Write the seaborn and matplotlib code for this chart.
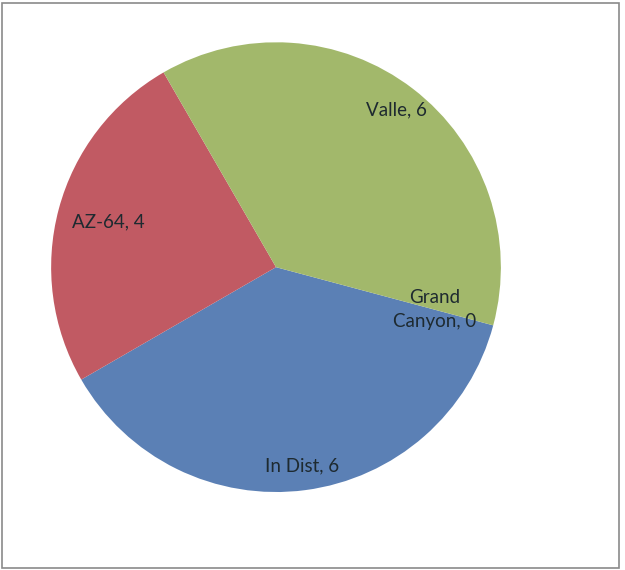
import numpy as np
import matplotlib
matplotlib.use("Agg")
import matplotlib.pyplot as plt
import seaborn as sns

# Slice data (clockwise from the start angle)
categories = ["In Dist", "AZ-64", "Valle", "Grand\nCanyon"]
values = [6, 4, 6, 0]
colors = ["#5b80b5", "#c15a63", "#a2b86b"]

sns.set_style("white")
plt.rcParams["font.family"] = ["Lato", "DejaVu Sans"]

fig = plt.figure(figsize=(6.25, 5.7), dpi=100)
ax = fig.add_axes([0.0816, 0.1368, 0.72, 0.789])

wedges, _ = ax.pie(
    values,
    colors=colors + [colors[0]],
    startangle=-15,
    counterclock=False,
    radius=1,
    wedgeprops=dict(linewidth=0),
)
ax.set_xlim(-1, 1)
ax.set_ylim(-1, 1)
ax.set_aspect("equal")
ax.axis("off")

# label distance for each slice (Excel best-fit placement)
label_dist = [0.89, 0.77, 0.88, 0.73]
for w, name, v, d in zip(wedges, categories, values, label_dist):
    ang = np.deg2rad((w.theta1 + w.theta2) / 2)
    ax.text(d * np.cos(ang), d * np.sin(ang), f"{name}, {v}",
            ha="center", va="center", fontsize=13.5, color="#1e2a30",
            linespacing=1.45)

# outer frame
fig.patches.append(plt.Rectangle((0.003, 0.004), 0.988, 0.99, transform=fig.transFigure,
                                 fill=False, edgecolor="#8a8a8a", linewidth=1.2))

fig.savefig("out.png", dpi=100)
